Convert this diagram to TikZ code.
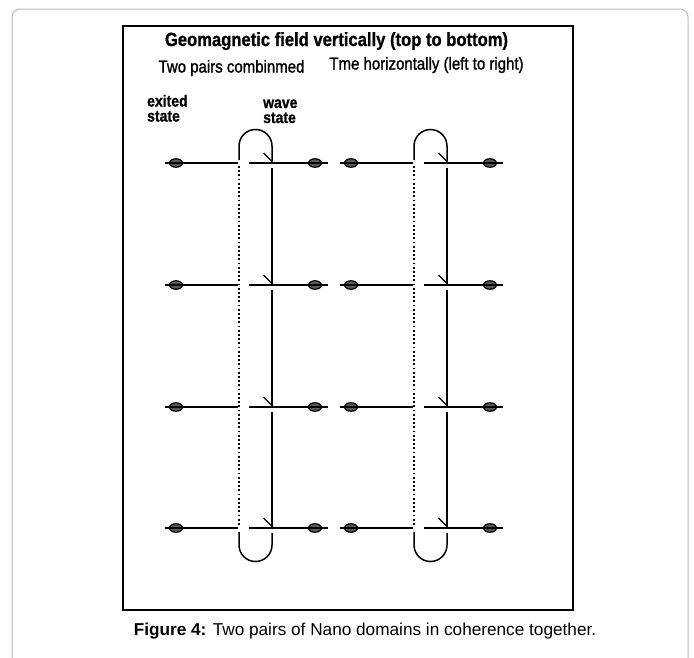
\documentclass[tikz,border=0pt]{standalone}
\usepackage{fontspec}
\setmainfont{Liberation Sans}
\newfontfamily\heavy[FakeBold=1.4]{Liberation Sans}
\newfontfamily\heavyb[FakeBold=1.0]{Liberation Sans Bold}
\usetikzlibrary{shapes.geometric}
\newcommand{\tallx}[1]{\scalebox{1}[1.15]{#1}}
\begin{document}
\begin{tikzpicture}[x=1pt,y=-1pt,
  term/.style={ellipse,draw=black,line width=1.2pt,fill=black!65,minimum width=13pt,minimum height=8.5pt,inner sep=0pt},
  wire/.style={line width=2.3pt},
  flow/.style={line width=1.5pt},
  barb/.style={line width=1.3pt},
  dots/.style={line width=1.9pt,dash pattern=on 1.7pt off 2.5pt},
  txt/.style={inner sep=0pt,anchor=base,font=\heavy\fontsize{15}{17}\selectfont},
  small/.style={inner sep=0pt,anchor=base west,font=\heavyb\fontsize{14}{16}\selectfont}]
\useasboundingbox (0,0) rectangle (694,657);
\draw[black!28,line width=1pt,rounded corners=8pt] (12,680) -- (12,9) -- (688,9) -- (688,680);
\coordinate (f1) at (123,26);
\coordinate (f2) at (573,610);
\draw[line width=1.5pt] (f1) rectangle (f2);
% texts
\node[txt,font=\heavyb\fontsize{16.6}{19}\selectfont] (title) at (336.5,46) {\tallx{Geomagnetic field vertically (top to bottom)}};
\node[txt] (pairs) at (231.5,72.5) {\tallx{Two pairs combinmed}};
\node[txt] (time) at (426.5,69.5) {\tallx{Tme horizontally (left to right)}};
\node[small] (ex1) at (147,106.5) {\tallx{exited}};
\node[small] (ex2) at (147,121.5) {\tallx{state}};
\node[small] (wv1) at (263,108) {\tallx{wave}};
\node[small] (wv2) at (263,123) {\tallx{state}};
\node[inner sep=0pt,anchor=base,font=\fontsize{17.2}{20}\selectfont] (cap) at (365,635) {\textbf{Figure 4:} Two pairs of Nano domains in coherence together.};
% the two pairs
\foreach \p/\dx in {A/0,B/175} {
  \foreach \r/\y in {1/163,2/285,3/407,4/528} {
    \coordinate (\p a\r) at (165+\dx,\y);
    \coordinate (\p b\r) at (238+\dx,\y);
    \coordinate (\p c\r) at (249+\dx,\y);
    \coordinate (\p d\r) at (328+\dx,\y);
    \node[term] (\p tl\r) at (176+\dx,\y) {};
    \node[term] (\p tr\r) at (315+\dx,\y) {};
    \draw[wire] (\p a\r) -- (\p b\r);
    \draw[wire] (\p c\r) -- (\p d\r);
    \coordinate (\p h\r) at (272+\dx,\y-1.5);
    \coordinate (\p s\r) at (272+\dx,\y+5);
    \draw[barb] (\p h\r) -- ++(-8.5,-8.5);
  }
  \draw[flow] (\p s1) -- (\p h2);
  \draw[flow] (\p s2) -- (\p h3);
  \draw[flow] (\p s3) -- (\p h4);
  \coordinate (\p top) at (239+\dx,160);
  \coordinate (\p bot) at (239+\dx,532);
  \draw[flow] (\p top) -- ++(0,-14) arc[start angle=180,end angle=360,radius=16.5] -- (\p h1);
  \draw[flow] (\p s4) -- ++(0,12) arc[start angle=0,end angle=180,radius=16.5] -- (\p bot);
  \coordinate (\p d0) at (239+\dx,166);
  \coordinate (\p d9) at (239+\dx,525);
  \draw[dots] (\p d0) -- (\p d9);
}
\end{tikzpicture}
\end{document}
